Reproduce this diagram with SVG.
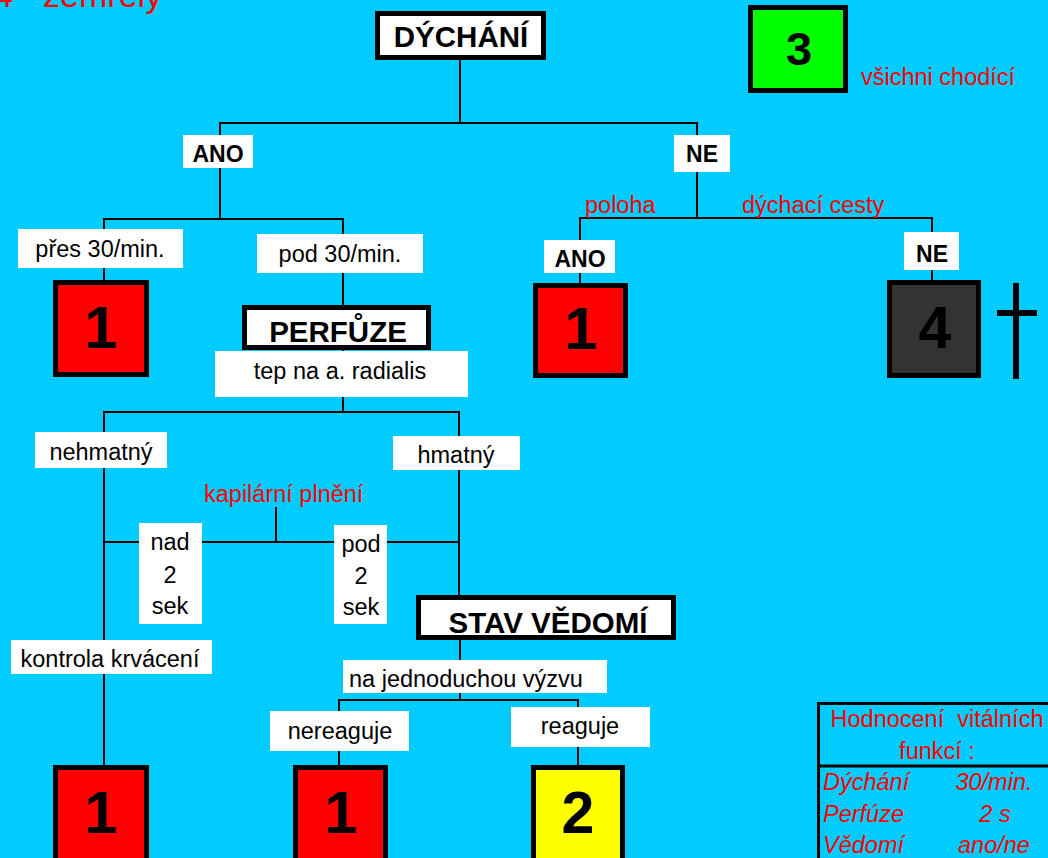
<svg xmlns="http://www.w3.org/2000/svg" width="1048" height="858" viewBox="0 0 1048 858">
<style>
.bg{fill:#00CCFF}
.lbl{fill:#FFFFFF}
.t{font-family:"Liberation Sans",Arial,sans-serif;font-size:23.5px;fill:#000}
.tb{font-family:"Liberation Sans",Arial,sans-serif;font-size:23px;font-weight:bold;fill:#000}
.hd{font-family:"Liberation Sans",Arial,sans-serif;font-size:29.5px;font-weight:bold;fill:#000}
.red{font-family:"Liberation Sans",Arial,sans-serif;font-size:23.5px;fill:#FF0000}
.redi{font-family:"Liberation Sans",Arial,sans-serif;font-size:23.5px;font-style:italic;fill:#FF0000}
.hbox{fill:#FFFFFF;stroke:#000;stroke-width:5}
.cat{stroke:#000;stroke-width:5}
.dig{font-family:"Liberation Sans",Arial,sans-serif;font-size:59px;font-weight:bold;fill:#000}
.conn line{stroke:#000;stroke-width:2}
</style>
<rect class="bg" x="0" y="0" width="1048" height="858"/>
<text id="legend4" class="red" x="-6" y="7" style="font-size:34px">4 - zemřelý</text>

<g class="conn" id="connectors">
<line x1="460" y1="60" x2="460" y2="123"/>
<line x1="219" y1="123" x2="698" y2="123"/>
<line x1="220" y1="123" x2="220" y2="220"/>
<line x1="103" y1="219" x2="344" y2="219"/>
<line x1="104" y1="219" x2="104" y2="281"/>
<line x1="343" y1="219" x2="343" y2="305"/>
<line x1="343" y1="350" x2="343" y2="412"/>
<line x1="103" y1="412" x2="460" y2="412"/>
<line x1="104" y1="412" x2="104" y2="766"/>
<line x1="459" y1="412" x2="459" y2="596"/>
<line x1="104" y1="542" x2="459" y2="542"/>
<line x1="276" y1="507" x2="276" y2="542"/>
<line x1="460" y1="640" x2="460" y2="700"/>
<line x1="338" y1="700" x2="579" y2="700"/>
<line x1="339" y1="700" x2="339" y2="766"/>
<line x1="578" y1="700" x2="578" y2="766"/>
<line x1="697" y1="123" x2="697" y2="219"/>
<line x1="579" y1="218" x2="933" y2="218"/>
<line x1="580" y1="218" x2="580" y2="284"/>
<line x1="932" y1="218" x2="932" y2="281"/>
</g>

<g id="dychani"><rect class="hbox" x="377.5" y="13.5" width="166" height="44"/><text class="hd" x="461" y="47" text-anchor="middle">DÝCHÁNÍ</text></g>
<g id="cat3"><rect class="cat" fill="#00FF00" x="750.5" y="7.5" width="95" height="83"/><text class="dig" x="799" y="65" text-anchor="middle" style="font-size:47px">3</text></g>
<text id="chodici" class="red" x="861" y="85">všichni chodící</text>

<g id="ano1"><rect class="lbl" x="183" y="135" width="70" height="33"/><text class="tb" x="218" y="162" text-anchor="middle">ANO</text></g>
<g id="ne1"><rect class="lbl" x="674" y="135" width="56" height="37"/><text class="tb" x="702" y="162" text-anchor="middle">NE</text></g>

<g id="pres"><rect class="lbl" x="18" y="229" width="165" height="39"/><text class="t" x="100" y="257" text-anchor="middle">přes 30/min.</text></g>
<g id="pod30"><rect class="lbl" x="257" y="234" width="166" height="39"/><text class="t" x="340" y="262" text-anchor="middle">pod 30/min.</text></g>
<g id="cat1a"><rect class="cat" fill="#FF0000" x="55.5" y="282.5" width="91" height="92"/><text class="dig" x="101" y="348" text-anchor="middle">1</text></g>

<g id="perfuze"><rect class="hbox" x="244.5" y="307.5" width="184" height="40"/><text class="hd" x="338" y="342" text-anchor="middle">PERFŮZE</text></g>
<g id="tep"><rect class="lbl" x="215" y="351" width="253" height="46"/><text class="t" x="340" y="379" text-anchor="middle">tep na a. radialis</text></g>

<text id="poloha" class="red" x="585" y="213">poloha</text>
<text id="cesty" class="red" x="742" y="213">dýchací cesty</text>
<g id="ano2"><rect class="lbl" x="544" y="240" width="71" height="33"/><text class="tb" x="580" y="267" text-anchor="middle">ANO</text></g>
<g id="ne2"><rect class="lbl" x="904" y="232" width="55" height="38"/><text class="tb" x="932" y="262" text-anchor="middle">NE</text></g>
<g id="cat1b"><rect class="cat" fill="#FF0000" x="535.5" y="285.5" width="90" height="90"/><text class="dig" x="581" y="349" text-anchor="middle">1</text></g>
<g id="cat4"><rect class="cat" fill="#333333" x="889.5" y="282.5" width="89" height="93"/><text class="dig" x="935" y="348" text-anchor="middle">4</text></g>
<g id="cross"><rect x="1013" y="283" width="6" height="96" fill="#000"/><rect x="997" y="310" width="40" height="6" fill="#000"/></g>

<g id="nehmatny"><rect class="lbl" x="35" y="432" width="132" height="36"/><text class="t" x="101" y="460" text-anchor="middle">nehmatný</text></g>
<g id="hmatny"><rect class="lbl" x="393" y="436" width="127" height="34"/><text class="t" x="456" y="463" text-anchor="middle">hmatný</text></g>
<text id="kapilarni" class="red" x="204" y="502">kapilární plnění</text>
<g id="nad"><rect class="lbl" x="139" y="523" width="63" height="101"/><text class="t" x="170" y="550" text-anchor="middle">nad</text><text class="t" x="170" y="583" text-anchor="middle">2</text><text class="t" x="170" y="614" text-anchor="middle">sek</text></g>
<g id="pod2"><rect class="lbl" x="334" y="525" width="53" height="99"/><text class="t" x="361" y="552" text-anchor="middle">pod</text><text class="t" x="361" y="584" text-anchor="middle">2</text><text class="t" x="361" y="615" text-anchor="middle">sek</text></g>

<g id="stav"><rect class="hbox" x="418.5" y="597.5" width="255" height="40"/><text class="hd" x="548" y="633" text-anchor="middle">STAV VĚDOMÍ</text></g>
<g id="kontrola"><rect class="lbl" x="11" y="640" width="201" height="34"/><text class="t" x="110" y="667" text-anchor="middle">kontrola krvácení</text></g>
<g id="vyzva"><rect class="lbl" x="343" y="660" width="264" height="33"/><text class="t" x="349" y="687">na jednoduchou výzvu</text></g>
<g id="nereaguje"><rect class="lbl" x="270" y="711" width="139" height="40"/><text class="t" x="340" y="739" text-anchor="middle">nereaguje</text></g>
<g id="reaguje"><rect class="lbl" x="511" y="707" width="139" height="40"/><text class="t" x="580" y="734" text-anchor="middle">reaguje</text></g>

<g id="cat1c"><rect class="cat" fill="#FF0000" x="55.5" y="767.5" width="91" height="100"/><text class="dig" x="101" y="833" text-anchor="middle">1</text></g>
<g id="cat1d"><rect class="cat" fill="#FF0000" x="295.5" y="767.5" width="90" height="100"/><text class="dig" x="341" y="833" text-anchor="middle">1</text></g>
<g id="cat2"><rect class="cat" fill="#FFFF00" x="533.5" y="767.5" width="89" height="100"/><text class="dig" x="578" y="833" text-anchor="middle">2</text></g>

<g id="table">
<rect x="818.5" y="703.5" width="240" height="170" fill="none" stroke="#000" stroke-width="3"/>
<line x1="818" y1="766" x2="1048" y2="766" stroke="#000" stroke-width="3"/>
<text class="red" x="937" y="727" text-anchor="middle" xml:space="preserve">Hodnocení  vitálních</text>
<text class="red" x="937" y="759" text-anchor="middle">funkcí :</text>
<text class="redi" x="823" y="790">Dýchání</text>
<text class="redi" x="994" y="790" text-anchor="middle">30/min.</text>
<text class="redi" x="823" y="822">Perfúze</text>
<text class="redi" x="995" y="822" text-anchor="middle">2 s</text>
<text class="redi" x="823" y="853">Vědomí</text>
<text class="redi" x="994" y="853" text-anchor="middle">ano/ne</text>
</g>
</svg>
